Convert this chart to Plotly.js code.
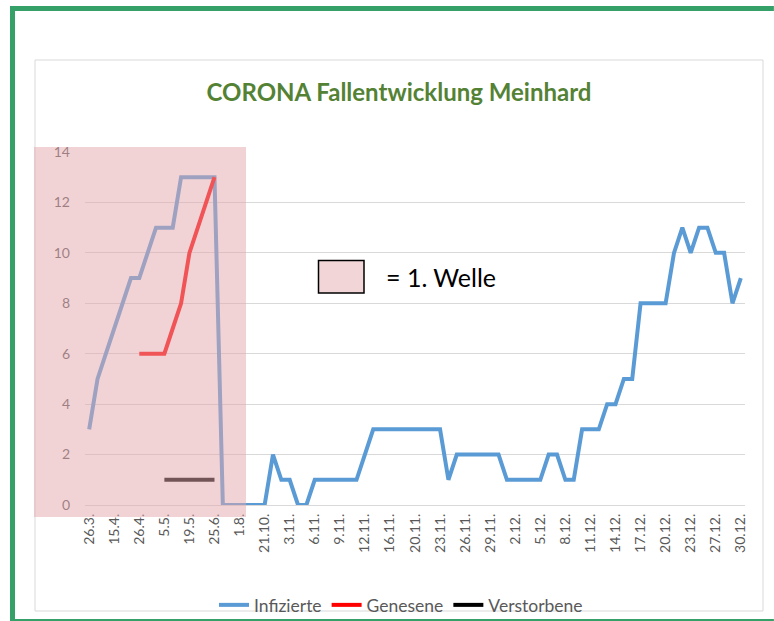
<!DOCTYPE html>
<html>
<head>
<meta charset="utf-8">
<script src="https://cdn.plot.ly/plotly-3.0.1.min.js"></script>
<style>html,body{margin:0;padding:0;background:#fff;overflow:hidden;}#chart{width:774px;height:621px;}</style>
</head>
<body>
<div id="chart"></div>
<script>
// Tick labels (every third category is labelled)
const tickLabels = ["26.3.","15.4.","26.4.","5.5.","19.5.","25.6.","1.8.","21.10.","3.11.","6.11.","9.11.","12.11.","16.11.","20.11.","23.11.","26.11.","29.11.","2.12.","5.12.","8.12.","11.12.","14.12.","17.12.","20.12.","23.12.","27.12.","30.12."];
const labelEvery = 3;

// Series values per category index
const infizierte = [3,5,6,7,8,9,9,10,11,11,11,13,13,13,13,13,0,0,0,0,0,0,2,1,1,0,0,1,1,1,1,1,1,2,3,3,3,3,3,3,3,3,3,1,2,2,2,2,2,2,1,1,1,1,1,2,2,1,1,3,3,3,4,4,5,5,8,8,8,8,10,11,10,11,11,10,10,8,9];
const geneseneStart = 6;
const genesene = [6,6,6,6,7,8,10,11,12,13];
const verstorbeneStart = 9;
const verstorbene = [1,1,1,1,1,1,1];

const idx = (arr, start) => arr.map((_, i) => i + start);

// plot area in pixels
const W = 774, H = 621;
const PL = 85, PR = 745, PT = 152, PB = 505;
const px = v => (v - PL) / (PR - PL);
const py = v => (PB - v) / (PB - PT);

const FONT = "Lato, 'Open Sans', sans-serif";

const traces = [
  {x: idx(infizierte, 0), y: infizierte, name: "Infizierte", type: "scatter", mode: "lines",
   line: {color: "#5B9BD5", width: 4}},
  {x: idx(genesene, geneseneStart), y: genesene, name: "Genesene", type: "scatter", mode: "lines",
   line: {color: "#FF0000", width: 4}},
  {x: idx(verstorbene, verstorbeneStart), y: verstorbene, name: "Verstorbene", type: "scatter", mode: "lines",
   line: {color: "#000000", width: 4}}
];

const tickvals = tickLabels.map((_, i) => i * labelEvery);

const layout = {
  width: W, height: H,
  paper_bgcolor: "#ffffff", plot_bgcolor: "#ffffff",
  margin: {l: PL, r: W - PR, t: PT, b: H - PB, pad: 0, autoexpand: false},
  font: {family: FONT, color: "#595959"},
  title: {text: "<b>CORONA Fallentwicklung Meinhard</b>", font: {family: FONT, size: 24, color: "#548235"},
          x: 399 / W, xanchor: "center", y: 1 - 93 / H, yanchor: "middle", xref: "container", yref: "container"},
  xaxis: {
    range: [-0.5, infizierte.length - 0.5], tickmode: "array", tickvals: tickvals, ticktext: tickLabels,
    tickangle: -90, showgrid: false, zeroline: false, showline: false, ticks: "",
    tickfont: {family: FONT, size: 14, color: "#595959"}, ticklabelstandoff: 5, fixedrange: true, automargin: false
  },
  yaxis: {
    range: [0, 14], dtick: 2, tick0: 0, showgrid: true, gridcolor: "#D9D9D9", gridwidth: 1,
    zeroline: true, zerolinecolor: "#D9D9D9", zerolinewidth: 1, showline: false, ticks: "",
    tickfont: {family: FONT, size: 14, color: "#595959"}, ticklabelstandoff: 14, fixedrange: true, automargin: false
  },
  showlegend: true,
  legend: {orientation: "h", xref: "container", yref: "container", x: 401 / W, xanchor: "center",
           y: (H - 605) / H, yanchor: "middle",
           font: {family: FONT, size: 17.5, color: "#595959"}, bgcolor: "rgba(0,0,0,0)",
           itemwidth: 30, tracegroupgap: 0},
  shapes: [
    // chart area frame
    {type: "rect", xref: "paper", yref: "paper", x0: px(35), x1: px(763), y0: py(60), y1: py(611),
     line: {color: "#D9D9D9", width: 1}, fillcolor: "rgba(0,0,0,0)", layer: "below"},
    // green outer frame (left, top, bottom)
    {type: "rect", xref: "paper", yref: "paper", x0: px(10), x1: px(15), y0: py(6), y1: py(621),
     line: {width: 0}, fillcolor: "#35A067", layer: "above"},
    {type: "rect", xref: "paper", yref: "paper", x0: px(10), x1: px(773.9), y0: py(6), y1: py(11),
     line: {width: 0}, fillcolor: "#35A067", layer: "above"},
    {type: "rect", xref: "paper", yref: "paper", x0: px(10), x1: px(773.9), y0: py(619), y1: py(621),
     line: {width: 0}, fillcolor: "#35A067", layer: "above"},
    // first wave overlay
    {type: "rect", xref: "paper", yref: "paper", x0: px(34), x1: px(246), y0: py(147), y1: py(517),
     line: {width: 0}, fillcolor: "rgb(228,168,174)", opacity: 0.5, layer: "above"},
    // key box
    {type: "rect", xref: "paper", yref: "paper", x0: px(318.5), x1: px(364), y0: py(260.5), y1: py(293),
     line: {color: "#000000", width: 1.5}, fillcolor: "#F1D5D7", layer: "above"}
  ],
  annotations: [
    {text: "= 1. Welle", xref: "paper", yref: "paper", x: px(384), y: py(277), xanchor: "left", yanchor: "middle",
     showarrow: false, font: {family: FONT, size: 25, color: "#000000"}}
  ]
};

Plotly.newPlot("chart", traces, layout, {displayModeBar: false, staticPlot: true});
</script>
</body>
</html>
